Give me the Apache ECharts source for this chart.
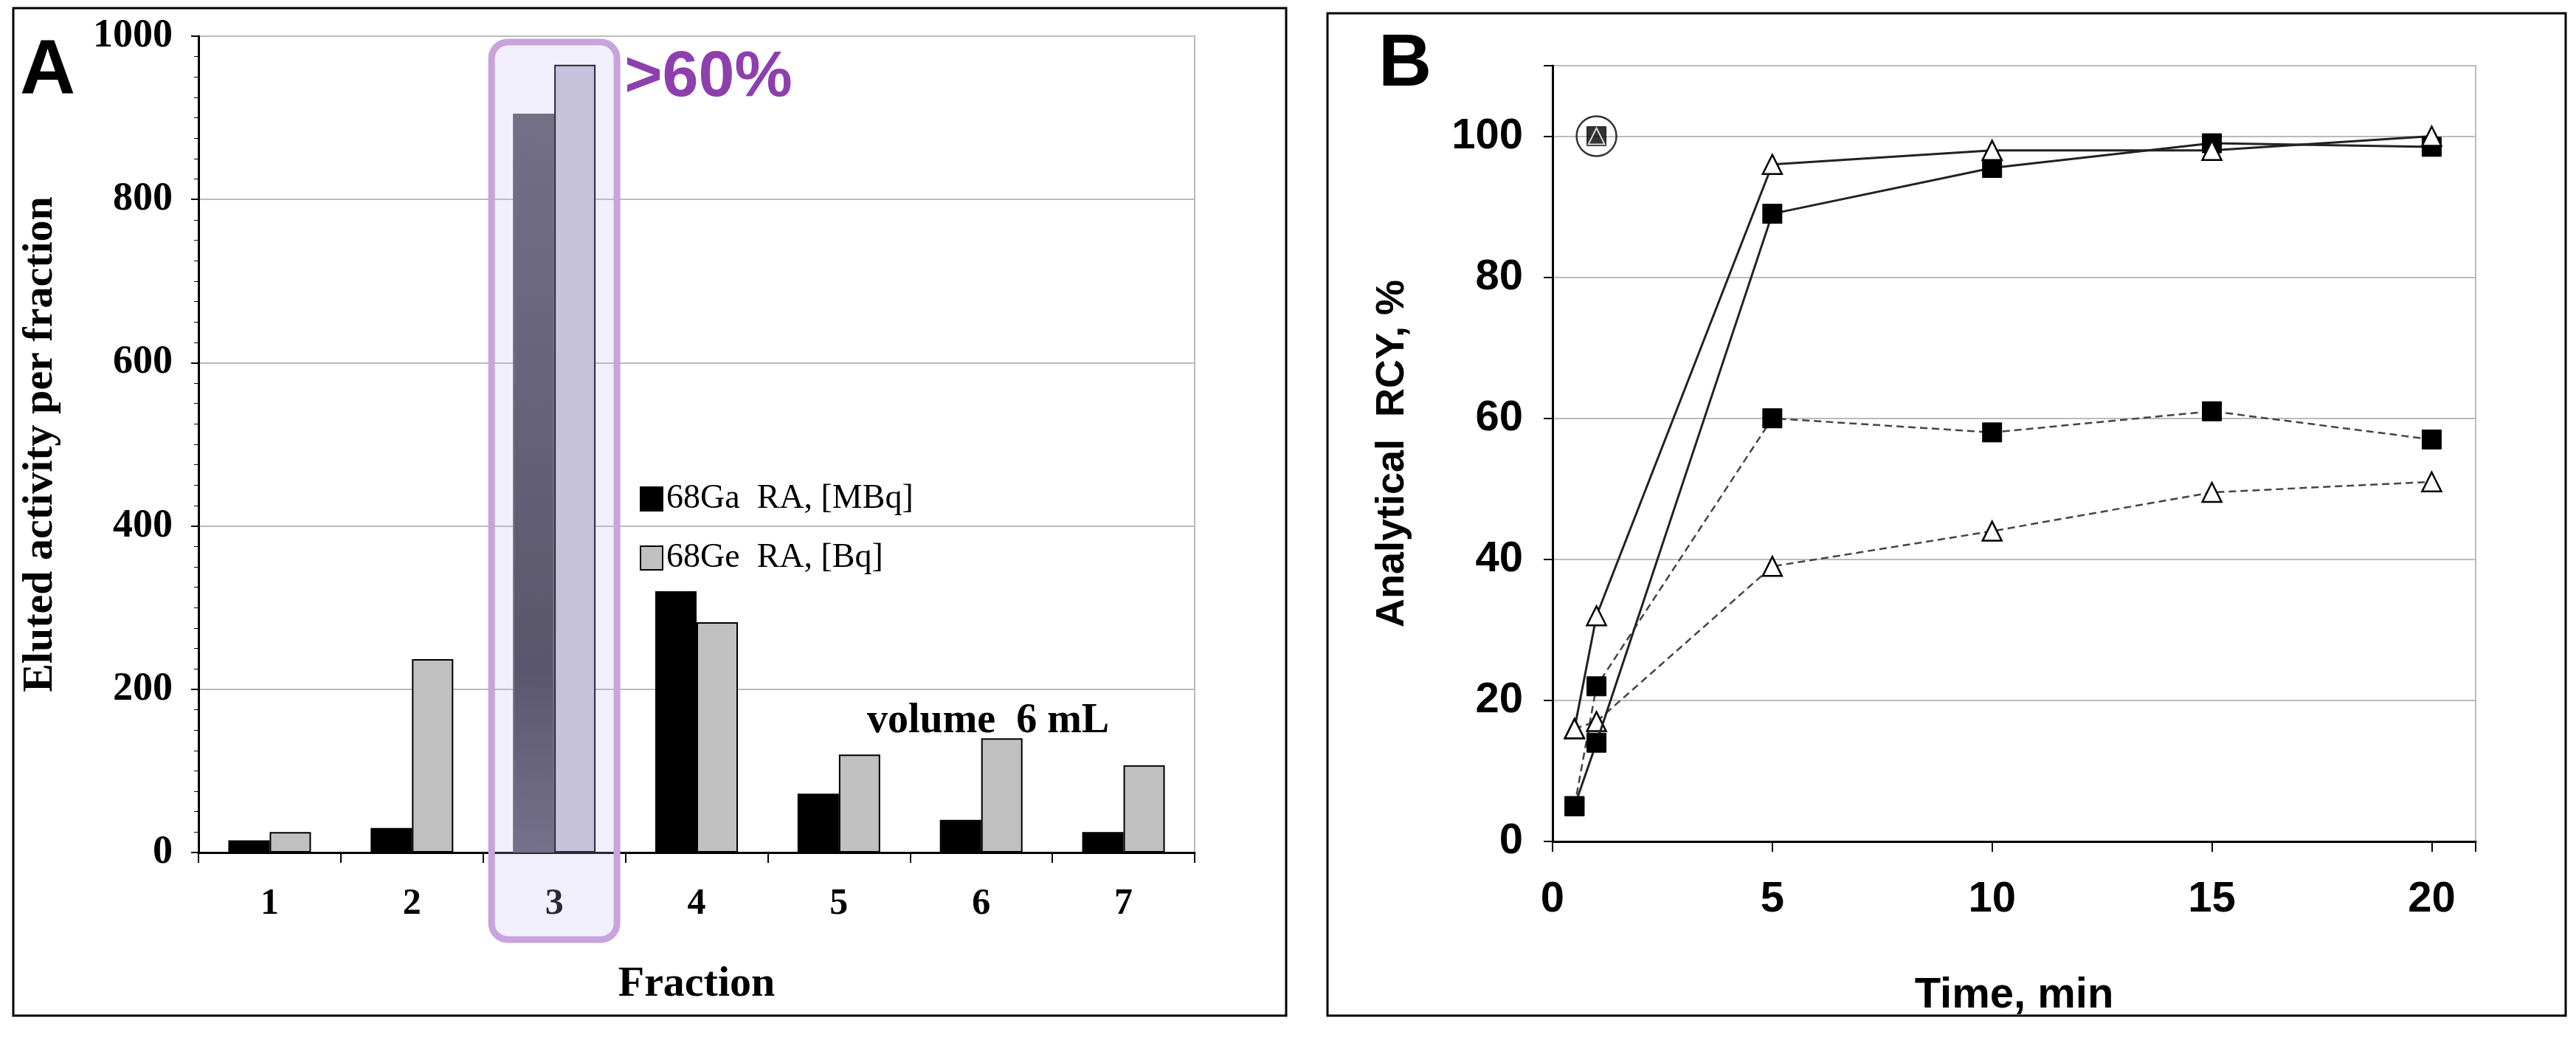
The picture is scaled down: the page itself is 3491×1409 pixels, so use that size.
<!DOCTYPE html>
<html><head><meta charset="utf-8">
<script src="https://cdn.jsdelivr.net/npm/echarts@6/dist/echarts.min.js"></script>
<style>html,body{margin:0;background:#fff}#c{width:3491px;height:1409px}</style>
</head><body><div id="c"></div>
<script>
const fractions = ['1','2','3','4','5','6','7'];
const gaMBq = [15, 30, 905, 320, 72, 40, 25];
const geBq = [25, 237, 965, 282, 120, 140, 107];
const solidSquares = [[0.5,5],[1,14],[5,89],[10,95.5],[15,99],[20,98.5]];
const solidTriangles = [[0.5,16],[1,32],[5,96],[10,98],[15,98],[20,100]];
const dashedSquares = [[0.5,5],[1,22],[5,60],[10,58],[15,61],[20,57]];
const dashedTriangles = [[0.5,16],[1,17],[5,39],[10,44],[15,49.5],[20,51]];
const circledPoint = [[1,100]];

const chart = echarts.init(document.getElementById('c'));
const serif = 'Liberation Serif', sans = 'Liberation Sans';
const gaData = gaMBq.map((v,i)=> i===2 ? {value:v, itemStyle:{color:new echarts.graphic.LinearGradient(0,0,0,1,[{offset:0,color:'#5e5c6a'},{offset:0.75,color:'#3e3c48'},{offset:1,color:'#605e70'}]), borderColor:'#5e5c6a'}} : v);
const geData = geBq.map((v,i)=> i===2 ? {value:v, itemStyle:{color:'#c8c6d6'}} : v);
const sq = {symbol:'rect', symbolSize:26, itemStyle:{color:'#000',borderColor:'#000'}};
const tri = {symbol:'triangle', symbolSize:26, itemStyle:{color:'#fff',borderColor:'#000',borderWidth:2.5}};
chart.setOption({
  animation:false,
  grid:[{left:269,top:49,width:1350,height:1106,show:true,borderColor:'#bbb',borderWidth:2},
        {left:2104,top:89,width:1251,height:1051,show:true,borderColor:'#bbb',borderWidth:2}],
  legend:{left:862,top:648,orient:'vertical',itemGap:34,itemWidth:30,itemHeight:32,icon:'rect',
    textStyle:{fontFamily:serif,fontSize:46,color:'#000'},data:['68Ga  RA, [MBq]','68Ge  RA, [Bq]']},
  xAxis:[{gridIndex:0,type:'category',data:fractions,name:'Fraction',nameLocation:'middle',nameGap:150,
      nameTextStyle:{fontFamily:serif,fontSize:58,fontWeight:'bold',color:'#000'},
      axisLine:{lineStyle:{color:'#000',width:3}},axisTick:{show:true,length:14,lineStyle:{color:'#000',width:2}},
      axisLabel:{fontFamily:serif,fontSize:50,fontWeight:'bold',color:'#000',margin:45}},
    {gridIndex:1,type:'value',min:0,max:21,interval:5,name:'Time, min',nameLocation:'middle',nameGap:180,
      nameTextStyle:{fontFamily:sans,fontSize:58,fontWeight:'bold',color:'#000'},
      axisLine:{lineStyle:{color:'#000',width:3}},axisTick:{show:true,length:14,lineStyle:{color:'#000',width:2}},
      splitLine:{show:false},
      axisLabel:{fontFamily:sans,fontSize:58,fontWeight:'bold',color:'#000',margin:50,
        formatter:v=> v%5===0 && v<=20 ? String(v) : ''}}],
  yAxis:[{gridIndex:0,type:'value',min:0,max:1000,interval:200,name:'Eluted activity per fraction',nameLocation:'middle',nameGap:185,
      nameTextStyle:{fontFamily:serif,fontSize:58,fontWeight:'bold',color:'#000'},
      axisLine:{show:true,lineStyle:{color:'#000',width:3}},axisTick:{show:true,length:10,lineStyle:{color:'#000',width:2}},
      minorTick:{show:true,splitNumber:8,length:6,lineStyle:{color:'#000'}},
      splitLine:{lineStyle:{color:'#bbb',width:2}},
      axisLabel:{fontFamily:serif,fontSize:54,fontWeight:'bold',color:'#000',margin:35,formatter:v=>String(v)}},
    {gridIndex:1,type:'value',min:0,max:110,interval:20,name:'Analytical  RCY, %',nameLocation:'middle',nameGap:190,
      nameTextStyle:{fontFamily:sans,fontSize:54,fontWeight:'bold',color:'#000'},
      axisLine:{show:true,lineStyle:{color:'#000',width:3}},axisTick:{show:true,length:12,lineStyle:{color:'#000',width:2}},
      splitLine:{lineStyle:{color:'#bbb',width:2}},
      axisLabel:{fontFamily:sans,fontSize:58,fontWeight:'bold',color:'#000',margin:40,formatter:v=>v<=100?String(v):''}}],
  series:[
    {name:'68Ga  RA, [MBq]',type:'bar',xAxisIndex:0,yAxisIndex:0,data:gaData,barWidth:56,barGap:'0%',
      itemStyle:{color:'#000',borderColor:'#000',borderWidth:2}},
    {name:'68Ge  RA, [Bq]',type:'bar',xAxisIndex:0,yAxisIndex:0,data:geData,barWidth:56,
      itemStyle:{color:'#c0c0c0',borderColor:'#000',borderWidth:2}},
    Object.assign({type:'line',xAxisIndex:1,yAxisIndex:1,data:dashedSquares,lineStyle:{color:'#444',width:2.5,type:[10,6]},z:3},sq),
    Object.assign({type:'line',xAxisIndex:1,yAxisIndex:1,data:dashedTriangles,lineStyle:{color:'#444',width:2.5,type:[10,6]},z:3},tri),
    Object.assign({type:'line',xAxisIndex:1,yAxisIndex:1,data:solidSquares,lineStyle:{color:'#222',width:3},z:4},sq),
    Object.assign({type:'line',xAxisIndex:1,yAxisIndex:1,data:solidTriangles,lineStyle:{color:'#222',width:3},z:4},tri),
    Object.assign({type:'scatter',xAxisIndex:1,yAxisIndex:1,data:circledPoint,z:5},sq),
    {type:'scatter',xAxisIndex:1,yAxisIndex:1,data:circledPoint,symbol:'triangle',symbolSize:22,z:6,
      itemStyle:{color:'rgba(0,0,0,0)',borderColor:'#fff',borderWidth:2}},
    {type:'scatter',xAxisIndex:1,yAxisIndex:1,data:circledPoint,symbol:'circle',symbolSize:54,z:6,
      itemStyle:{color:'rgba(0,0,0,0)',borderColor:'#000',borderWidth:2.5}}
  ]
});
const p3 = chart.convertToPixel({xAxisIndex:0,yAxisIndex:0},['3',1000]);
const base = chart.convertToPixel({xAxisIndex:0,yAxisIndex:0},['3',0]);
chart.setOption({graphic:[
  {type:'rect',shape:{x:18,y:11,width:1725,height:1365},style:{fill:'none',stroke:'#000',lineWidth:3},z:1},
  {type:'rect',shape:{x:1799,y:18,width:1678,height:1358},style:{fill:'none',stroke:'#000',lineWidth:3},z:1},
  {type:'rect',shape:{x:p3[0]-85,y:p3[1]+8,width:170,height:base[1]-p3[1]+110,r:22},
    style:{fill:'rgba(190,180,240,0.22)',stroke:'#c9a3dc',lineWidth:9},z:100},
  {type:'text',left:p3[0]+95,top:62,style:{text:'>60%',font:'bold 88px "Liberation Sans"',fill:'#8e3fae'},z:100},
  {type:'text',left:1175,top:950,style:{text:'volume  6 mL',font:'bold 56px "Liberation Serif"',fill:'#000'},z:100},
  {type:'text',left:27,top:45,style:{text:'A',font:'bold 104px "Liberation Sans"',fill:'#000'},z:100},
  {type:'text',left:1868,top:38,style:{text:'B',font:'bold 100px "Liberation Sans"',fill:'#000'},z:100}
]});
</script></body></html>
